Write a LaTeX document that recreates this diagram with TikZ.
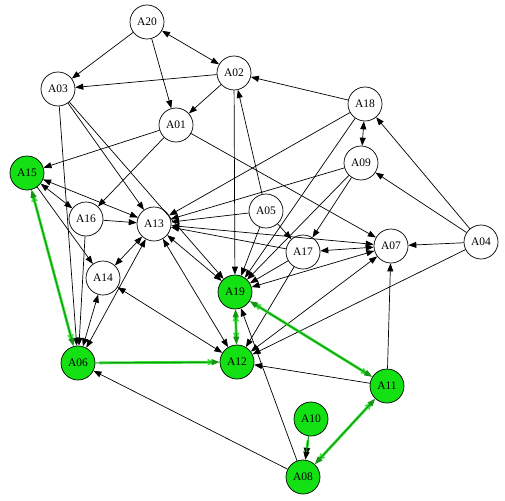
\documentclass[tikz,border=0pt]{standalone}
\usepackage{fontspec}
\setmainfont{Liberation Serif}
\usetikzlibrary{arrows.meta}
\definecolor{ngreen}{RGB}{20,225,20}
\definecolor{egreen}{RGB}{60,230,60}
\definecolor{dgreen}{RGB}{20,150,20}
\begin{document}
\begin{tikzpicture}[x=1pt,y=-1pt,
  nd/.style={circle,draw=black,line width=0.7pt,fill=white,minimum size=34pt,inner sep=0pt,font=\fontsize{11.5}{11.5}\selectfont},
  gn/.style={nd,fill=ngreen},
  ed/.style={line width=0.7pt,-{Triangle[length=8pt,width=6pt]}},
  bd/.style={line width=0.7pt,{Triangle[length=8pt,width=6pt]}-{Triangle[length=8pt,width=6pt]}},
  gcore/.style={line width=1.1pt,dgreen,preaction={draw,line width=2.8pt,egreen,shorten >=4pt,shorten <=4pt}},
  ge/.style={gcore,-{Triangle[length=8pt,width=6pt]}},
  gb/.style={gcore,{Triangle[length=8pt,width=6pt]}-{Triangle[length=8pt,width=6pt]}}]
\useasboundingbox (0,0) rectangle (505,500);
\node[nd] (A20) at (147,22) {A20};
\node[nd] (A02) at (234,73) {A02};
\node[nd] (A03) at (58,89) {A03};
\node[nd] (A01) at (176,125) {A01};
\node[gn] (A15) at (27,173) {A15};
\node[nd] (A16) at (86,219) {A16};
\node[nd] (A13) at (154,224) {A13};
\node[nd] (A18) at (365,104) {A18};
\node[nd] (A09) at (361,163) {A09};
\node[nd] (A05) at (266,211) {A05};
\node[nd] (A07) at (391,246) {A07};
\node[nd] (A04) at (481,242) {A04};
\node[nd] (A17) at (303,252) {A17};
\node[nd] (A14) at (103,278) {A14};
\node[gn] (A19) at (235,292) {A19};
\node[gn] (A06) at (78,363) {A06};
\node[gn] (A12) at (237,362) {A12};
\node[gn] (A11) at (387,386) {A11};
\node[gn] (A10) at (311,419) {A10};
\node[gn] (A08) at (303,477) {A08};
% black edges
\draw[ed] (A20) -- (A03);
\draw[bd] (A20) -- (A02);
\draw[ed] (A20) -- (A01);
\draw[ed] (A02) -- (A03);
\draw[ed] (A02) -- (A01);
\draw[ed] (A02) -- (A19);
\draw[ed] (A18) -- (A02);
\draw[ed] (A05) -- (A02);
\draw[ed] (A01) -- (A15);
\draw[ed] (A01) -- (A16);
\draw[ed] (A01) -- (A07);
\draw[ed] (A03) -- (A13);
\draw[ed] (A03) -- (A19);
\draw[ed] (A03) -- (A06);
\draw[bd] (A15) -- (A13);
\draw[bd] (A15) -- (A16);
\draw[ed] (A15) -- (A14);
\draw[ed] (A16) -- (A13);
\draw[ed] (A16) -- (A06);
\draw[bd] (A14) -- (A13);
\draw[bd] (A14) -- (A06);
\draw[bd] (A14) -- (A12);
\draw[bd] (A13) -- (A06);
\draw[bd] (A13) -- (A12);
\draw[bd] (A13) -- (A19);
\draw[ed] (A18) -- (A13);
\draw[ed] (A09) -- (A13);
\draw[ed] (A05) -- (A13);
\draw[ed] (A17) -- (A13);
\draw[bd] (A07) -- (A13);
\draw[bd] (A18) -- (A09);
\draw[ed] (A04) -- (A18);
\draw[ed] (A04) -- (A09);
\draw[ed] (A04) -- (A07);
\draw[ed] (A04) -- (A12);
\draw[ed] (A09) -- (A17);
\draw[ed] (A09) -- (A19);
\draw[ed] (A18) -- (A19);
\draw[ed] (A05) -- (A17);
\draw[ed] (A05) -- (A19);
\draw[bd] (A17) -- (A07);
\draw[ed] (A17) -- (A19);
\draw[bd] (A07) -- (A19);
\draw[ed] (A17) -- (A12);
\draw[bd] (A12) -- (A07);
\draw[ed] (A11) -- (A07);
\draw[ed] (A11) -- (A12);
\draw[ed] (A08) -- (A19);
\draw[ed] (A08) -- (A06);
% green edges
\draw[gb] (A15) -- (A06);
\draw[ge] (A06) -- (A12);
\draw[gb] (A12) -- (A19);
\draw[gb] (A19) -- (A11);
\draw[gb] (A08) -- (A11);
\draw[gcore,-{Triangle[length=8pt,width=6pt,color=black]}] (A10) -- (A08);
\end{tikzpicture}
\end{document}
